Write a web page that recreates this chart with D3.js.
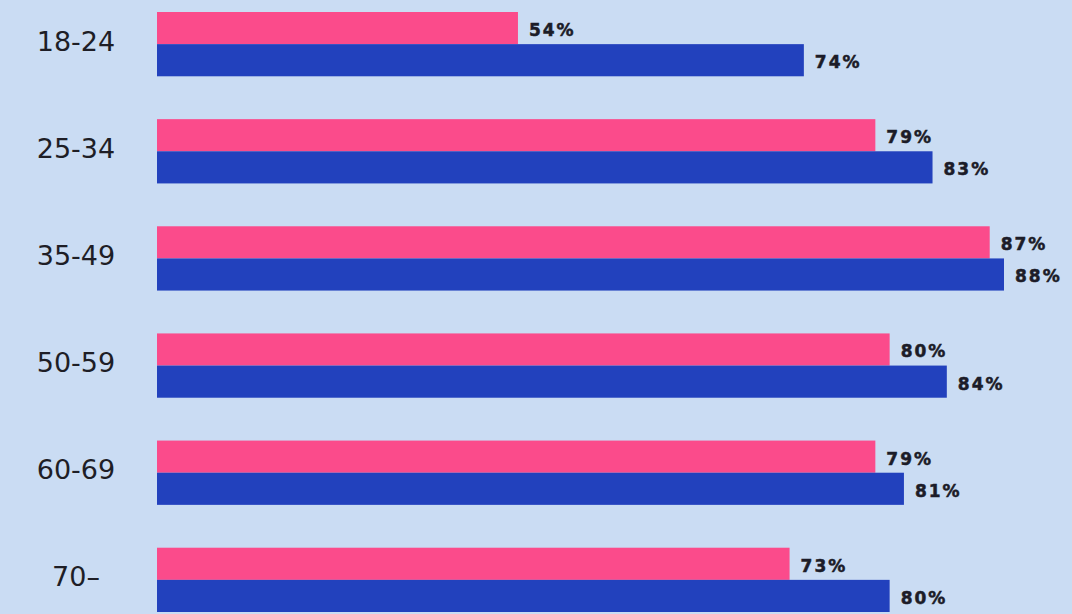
<!DOCTYPE html>
<html>
<head>
<meta charset="utf-8">
<script src="https://cdn.jsdelivr.net/npm/d3@7"></script>
<style>
  html, body { margin: 0; padding: 0; background: #cadcf3; }
  svg { display: block; }
</style>
</head>
<body>
<svg id="chart" width="1072" height="614"></svg>
<script>
const categories = ["18-24", "25-34", "35-49", "50-59", "60-69", "70\u2013"];
const seriesNames = ["pink", "blue"];
const pinkValues = [54, 79, 87, 80, 79, 73];
const blueValues = [74, 83, 88, 84, 81, 80];
const colors = { pink: "#fb4b8b", blue: "#2241bd" };

const W = 1072, H = 614;
const svg = d3.select("#chart");
svg.append("rect").attr("width", W).attr("height", H).attr("fill", "#cadcf3");

const rows = categories.map((c, i) => ({
  cat: c,
  vals: [{ s: "pink", v: pinkValues[i] }, { s: "blue", v: blueValues[i] }]
}));

const y = d3.scaleBand().domain(categories).range([12, 612]).paddingInner(0.4).paddingOuter(0);
const ySub = d3.scaleBand().domain(seriesNames).range([0, y.bandwidth()]).padding(0);
const x = d3.scaleLinear().domain([28.75, 88]).range([157, 1004]);

const g = svg.append("g");
const grp = g.selectAll("g.row").data(rows).join("g")
  .attr("class", "row")
  .attr("transform", d => `translate(0,${y(d.cat)})`);

grp.selectAll("rect").data(d => d.vals).join("rect")
  .attr("x", x(x.domain()[0]))
  .attr("y", d => ySub(d.s))
  .attr("width", d => x(d.v) - x(x.domain()[0]))
  .attr("height", ySub.bandwidth())
  .attr("fill", d => colors[d.s]);

grp.selectAll("text.val").data(d => d.vals).join("text")
  .attr("class", "val")
  .attr("x", d => x(d.v) + 11)
  .attr("y", d => ySub(d.s) + ySub.bandwidth() / 2 + 2)
  .attr("dominant-baseline", "central")
  .attr("font-family", "DejaVu Sans, sans-serif")
  .attr("font-weight", "bold")
  .attr("font-size", 17)
  .attr("letter-spacing", 2)
  .attr("fill", "#1c1c28")
  .attr("stroke", "#1c1c28")
  .attr("stroke-width", 0.5)
  .text(d => d.v + "%");

grp.append("text")
  .attr("x", 76)
  .attr("y", y.bandwidth() / 2 - 3)
  .attr("text-anchor", "middle")
  .attr("dominant-baseline", "central")
  .attr("font-family", "DejaVu Sans, sans-serif")
  .attr("font-size", 27)
  .attr("fill", "#1e1e26")
  .text(d => d.cat);
</script>
</body>
</html>
